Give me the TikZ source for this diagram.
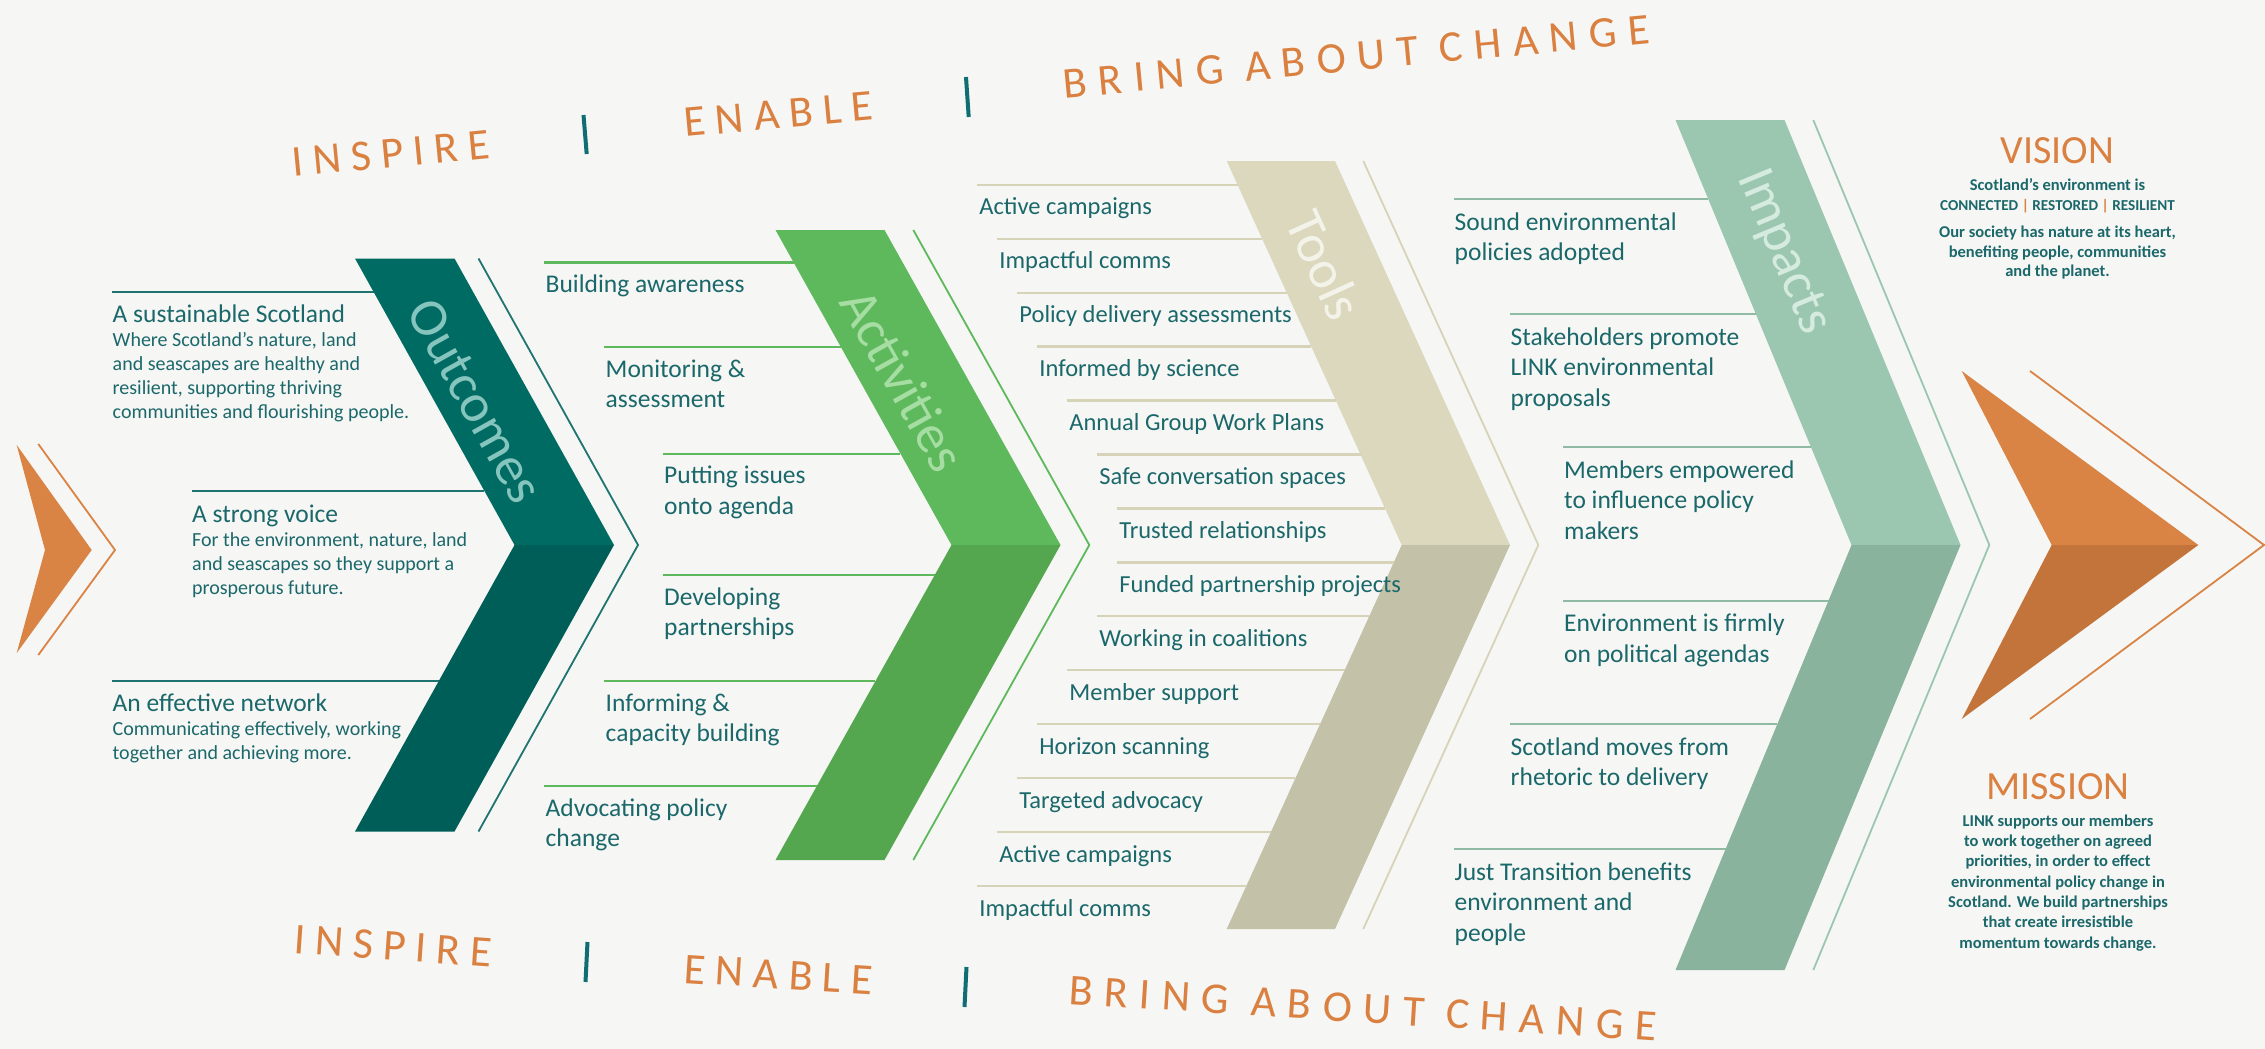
\documentclass[tikz,border=0pt]{standalone}
\usepackage{fontspec}
\setmainfont{Carlito}
\newfontfamily\sloganA[LetterSpace=22.5]{Carlito}
\newfontfamily\sloganB[LetterSpace=26]{Carlito}
\definecolor{bg}{HTML}{F6F6F4}
\definecolor{txt}{HTML}{1B686B}
\definecolor{outA}{HTML}{006B63}
\definecolor{outB}{HTML}{005E58}
\definecolor{outL}{HTML}{1F7470}
\definecolor{outT}{HTML}{86C5BE}
\definecolor{actA}{HTML}{5DB95B}
\definecolor{actB}{HTML}{54A74F}
\definecolor{actT}{HTML}{A6DDA3}
\definecolor{toolA}{HTML}{DBD8BE}
\definecolor{toolB}{HTML}{C3C1A8}
\definecolor{toolL}{HTML}{D6D3B8}
\definecolor{toolT}{HTML}{F4F3EA}
\definecolor{impA}{HTML}{9BC7B0}
\definecolor{impB}{HTML}{89B39D}
\definecolor{impL}{HTML}{8FBBA5}
\definecolor{impT}{HTML}{D6EBE0}
\definecolor{orA}{HTML}{D98344}
\definecolor{orB}{HTML}{C3743A}
\definecolor{orT}{HTML}{DA8040}
\definecolor{barc}{HTML}{0F6D73}
\newcommand\lftline[1]{\hbox{#1}}
\newcommand\cenline[1]{\hbox to 0pt{\hss#1\hss}}
\begin{document}
\begin{tikzpicture}[x=1pt,y=-1pt,
  itemtext/.style={anchor=base west, inner sep=0pt, text=txt, font=\fontsize{25.5}{30.5}\selectfont},
  tooltext/.style={anchor=base west, inner sep=0pt, text=txt, font=\fontsize{24.5}{29}\selectfont},
  outhead/.style={anchor=base west, inner sep=0pt, text=txt, font=\fontsize{25.5}{30}\selectfont},
  chevlabel/.style={inner sep=0pt, font=\fontsize{54}{54}\selectfont},
  slogA/.style={anchor=base west, inner sep=0pt, text=orT, font=\sloganA\fontsize{44}{44}\selectfont},
  slogB/.style={anchor=base west, inner sep=0pt, text=orT, font=\sloganB\fontsize{44}{44}\selectfont},
  slogbar/.style={draw=barc, line width=4pt},
  chevline/.style={line width=1.8pt},
  itemline/.style={line width=2.2pt},
  boxtitle/.style={anchor=base, inner sep=0pt, text=orT, font=\fontsize{40}{40}\selectfont},
  boxtext/.style={anchor=base, inner sep=0pt, text=txt, font=\bfseries\fontsize{16.5}{19.3}\selectfont},
]
\useasboundingbox (0,0) rectangle (2265,1049);
\fill[bg] (0,0) rectangle (2265,1049);

% ---------- left orange chevron
\coordinate (lTop) at (16.7,445); \coordinate (lTip) at (91.7,550);
\coordinate (lBot) at (16.7,653); \coordinate (lNotch) at (45,550);
\fill[orA] (lTop) -- (lTip) -- (lBot) -- (lNotch) -- cycle;
\draw[orA, chevline] (38.3,444) -- (115,550) -- (38.3,655);

% ---------- Outcomes
\coordinate (oTL) at (355,258.5); \coordinate (oTR) at (454.5,258.5);
\coordinate (oN) at (514.5,545);  \coordinate (oT) at (614,545);
\coordinate (oBL) at (355,831.5); \coordinate (oBR) at (454.5,831.5);
\fill[outA] (oTL) -- (oTR) -- (oT) -- (oN) -- cycle;
\fill[outB] (oN) -- (oT) -- (oBR) -- (oBL) -- cycle;
\draw[outL, chevline] (478.5,258.5) -- (638,545) -- (478.5,831.5);
\node[chevlabel, text=outT, rotate=-60.8] (outlab) at (475.5,401) {Outcomes};

% ---------- Activities
\coordinate (aTL) at (775.5,230); \coordinate (aTR) at (884.5,230);
\coordinate (aN) at (951.5,545);  \coordinate (aT) at (1060.5,545);
\coordinate (aBL) at (775.5,860); \coordinate (aBR) at (884.5,860);
\fill[actA] (aTL) -- (aTR) -- (aT) -- (aN) -- cycle;
\fill[actB] (aN) -- (aT) -- (aBR) -- (aBL) -- cycle;
\draw[actA, chevline] (913.3,230) -- (1089.3,545) -- (913.3,860);
\node[chevlabel, text=actT, rotate=-60.8] (actlab) at (903,380) {Activities};

% ---------- Tools
\coordinate (tTL) at (1226.7,161); \coordinate (tTR) at (1335,161);
\coordinate (tN) at (1401.7,545);  \coordinate (tT) at (1510,545);
\coordinate (tBL) at (1226.7,929); \coordinate (tBR) at (1335,929);
\fill[toolA] (tTL) -- (tTR) -- (tT) -- (tN) -- cycle;
\fill[toolB] (tN) -- (tT) -- (tBR) -- (tBL) -- cycle;
\draw[toolL, chevline] (1363.3,161) -- (1538.3,545) -- (1363.3,929);
\node[chevlabel, text=toolT, rotate=-65.5] (toollab) at (1325,265) {Tools};

% ---------- Impacts
\coordinate (iTL) at (1675.5,120); \coordinate (iTR) at (1784.5,120);
\coordinate (iN) at (1851.5,545);  \coordinate (iT) at (1960.5,545);
\coordinate (iBL) at (1675.5,970); \coordinate (iBR) at (1784.5,970);
\fill[impA] (iTL) -- (iTR) -- (iT) -- (iN) -- cycle;
\fill[impB] (iN) -- (iT) -- (iBR) -- (iBL) -- cycle;
\draw[impA, chevline] (1813.3,120) -- (1989.3,545) -- (1813.3,970);
\node[chevlabel, text=impT, rotate=-67.4] (implab) at (1783,252) {Impacts};

% ---------- right orange chevron
\fill[orA] (1961.7,371) -- (2198.3,545) -- (2051.7,545) -- cycle;
\fill[orB] (2051.7,545) -- (2198.3,545) -- (1961.7,719) -- cycle;
\draw[orA, chevline] (2030,371) -- (2264,545) -- (2030,719);

% ---------- Outcomes items
\draw[outL, itemline] (111.6,292) -- (373.6,292);
\draw[outL, itemline] (192,491) -- (484.4,491);
\draw[outL, itemline] (112,681) -- (438.8,681);
\node[outhead] (o1) at (112.5,322) {\vtop{\lftline{A sustainable Scotland}\fontsize{20}{24}\selectfont
  \lftline{Where Scotland's nature, land}\lftline{and seascapes are healthy and}
  \lftline{resilient, supporting thriving}\lftline{communities and flourishing people.}}};
\node[outhead] (o2) at (192,522) {\vtop{\lftline{A strong voice}\fontsize{20}{24}\selectfont
  \lftline{For the environment, nature, land}\lftline{and seascapes so they support a}
  \lftline{prosperous future.}}};
\node[outhead] (o3) at (112.5,711) {\vtop{\lftline{An effective network}\fontsize{20}{24}\selectfont
  \lftline{Communicating effectively, working}\lftline{together and achieving more.}}};

% ---------- Activities items
\draw[actA, itemline] (544,262.5) -- (793.7,262.5);
\draw[actA, itemline] (604,347.3) -- (841,347.3);
\draw[actA, itemline] (662.6,453.6) -- (900.4,453.6);
\draw[actA, itemline] (662.6,575) -- (934.7,575);
\draw[actA, itemline] (604,681.3) -- (875.3,681.3);
\draw[actA, itemline] (544,786) -- (816.8,786);
\node[itemtext] (a1) at (545.5,292) {Building awareness};
\node[itemtext] (a2) at (605.5,377) {\vtop{\lftline{Monitoring \&}\lftline{assessment}}};
\node[itemtext] (a3) at (664,483.5) {\vtop{\lftline{Putting issues}\lftline{onto agenda}}};
\node[itemtext] (a4) at (664,605) {\vtop{\lftline{Developing}\lftline{partnerships}}};
\node[itemtext] (a5) at (605.5,711) {\vtop{\lftline{Informing \&}\lftline{capacity building}}};
\node[itemtext] (a6) at (545.5,816) {\vtop{\lftline{Advocating policy}\lftline{change}}};

% ---------- Tools items
\foreach \k/\xs/\xe/\t in {
  0/976.7/1237.5/Active campaigns,
  1/996.7/1262.1/Impactful comms,
  2/1016.7/1286.7/Policy delivery assessments,
  3/1036.7/1311.3/Informed by science,
  4/1066.7/1335.9/Annual Group Work Plans,
  5/1096.7/1360.5/Safe conversation spaces,
  6/1116.7/1385.1/Trusted relationships,
  7/1116.7/1393.8/Funded partnership projects,
  8/1096.7/1369.2/Working in coalitions,
  9/1066.7/1344.6/Member support,
  10/1036.7/1320.0/Horizon scanning,
  11/1016.7/1295.4/Targeted advocacy,
  12/996.7/1270.8/Active campaigns,
  13/976.7/1246.2/Impactful comms}{
  \coordinate (ts\k) at (\xs,184.7+53.96*\k);
  \coordinate (te\k) at (\xe,184.7+53.96*\k);
  \draw[toolL, itemline] (ts\k) -- (te\k);
  \node[tooltext] (tool\k) at (\xs+2.5,184.7+53.96*\k+30) {\t};
}

% ---------- Impacts items
\draw[impL, itemline] (1453.6,198.7) -- (1708.1,198.7);
\draw[impL, itemline] (1509.8,314) -- (1755.8,314);
\draw[impL, itemline] (1563.4,447.3) -- (1811,447.3);
\draw[impL, itemline] (1563.4,600.6) -- (1828.5,600.6);
\draw[impL, itemline] (1509.8,724) -- (1777.4,724);
\draw[impL, itemline] (1453.6,849) -- (1725.6,849);
\node[itemtext] (i1) at (1454.5,230) {\vtop{\lftline{Sound environmental}\lftline{policies adopted}}};
\node[itemtext] (i2) at (1510.5,345) {\vtop{\lftline{Stakeholders promote}\lftline{LINK environmental}\lftline{proposals}}};
\node[itemtext] (i3) at (1564,478) {\vtop{\lftline{Members empowered}\lftline{to influence policy}\lftline{makers}}};
\node[itemtext] (i4) at (1564,631.5) {\vtop{\lftline{Environment is firmly}\lftline{on political agendas}}};
\node[itemtext] (i5) at (1510.5,755) {\vtop{\lftline{Scotland moves from}\lftline{rhetoric to delivery}}};
\node[itemtext] (i6) at (1454.5,880) {\vtop{\lftline{Just Transition benefits}\lftline{environment and}\lftline{people}}};

% ---------- Vision / Mission
\node[boxtitle] (vis) at (2057.5,163) {VISION};
\node[boxtext] (vis1) at (2057.5,190.7) {\vtop{\cenline{Scotland's environment is}
  \cenline{\fontsize{15.2}{19.3}\selectfont CONNECTED {\color{orT}|} RESTORED {\color{orT}|} RESILIENT}}};
\node[boxtext] (vis2) at (2057.5,237.8) {\vtop{\cenline{Our society has nature at its heart,}
  \cenline{benefiting people, communities}\cenline{and the planet.}}};
\node[boxtitle] (mis) at (2058,799) {MISSION};
\node[boxtext, font=\bfseries\fontsize{16.5}{20.3}\selectfont] (mis1) at (2058,826.2) {\vtop{
  \cenline{LINK supports our members}\cenline{to work together on agreed}
  \cenline{priorities, in order to effect}\cenline{environmental policy change in}
  \cenline{Scotland. We build partnerships}\cenline{that create irresistible}
  \cenline{momentum towards change.}}};

% ---------- slogans
\node[slogA, rotate=5.5] (ins1) at (293,177) {INSPIRE};
\node[slogA, rotate=5.2] (ena1) at (685.5,137) {ENABLE};
\node[slogB, rotate=5.4] (bri1) at (1064.5,98.5) {BRING ABOUT CHANGE};
\coordinate (b1t) at (583.5,115); \coordinate (b1b) at (586.7,154);
\coordinate (b2t) at (966,77);    \coordinate (b2b) at (968.7,117);
\draw[slogbar] (b1t) -- (b1b);
\draw[slogbar] (b2t) -- (b2b);
\node[slogA, rotate=-4] (ins2) at (293,953) {INSPIRE};
\node[slogA, rotate=-3.5] (ena2) at (683,983) {ENABLE};
\node[slogB, rotate=-3.6] (bri2) at (1068,1004) {BRING ABOUT CHANGE};
\coordinate (b3t) at (587.5,942); \coordinate (b3b) at (585.5,982);
\coordinate (b4t) at (966.5,967); \coordinate (b4b) at (964.5,1007);
\draw[slogbar] (b3t) -- (b3b);
\draw[slogbar] (b4t) -- (b4b);
\end{tikzpicture}
\end{document}
